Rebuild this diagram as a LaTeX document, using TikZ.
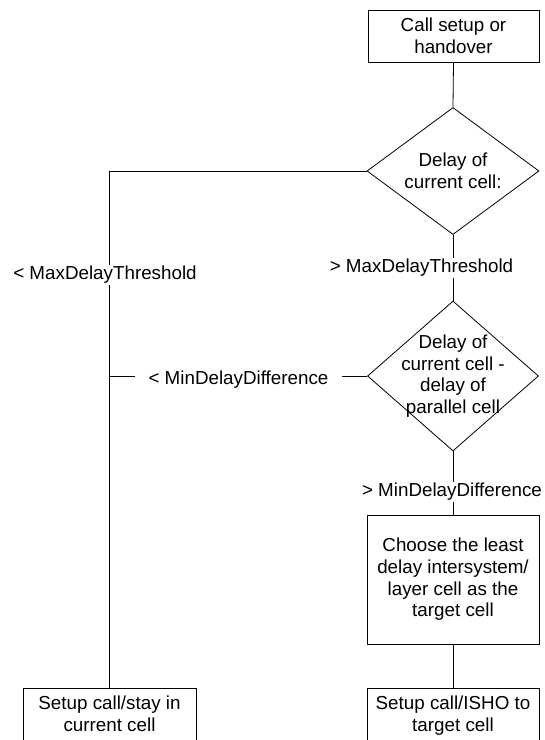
\documentclass[tikz,border=0pt]{standalone}
\usepackage{fontspec}
\setmainfont{Liberation Sans}
\usetikzlibrary{shapes.geometric}
\begin{document}
\begin{tikzpicture}[x=1pt,y=-1pt,
  every node/.style={font=\fontsize{18.8}{21.7}\selectfont},
  line/.style={line width=0.8pt, draw=black},
  boxnode/.style={draw, line width=0.8pt, inner sep=0pt, align=center},
  dianode/.style={draw, diamond, line width=0.8pt, inner sep=0pt},
  txt/.style={align=center, inner sep=0pt},
  lbl/.style={fill=white, inner sep=1.5pt}
]
\useasboundingbox (0,0) rectangle (545,740);

\node[boxnode, minimum width=171, minimum height=52] (top) at (453.5,36) {Call setup or\\handover};

\node[dianode, minimum width=172, minimum height=127] (d1) at (453,171) {};
\node[txt] (d1t) at (d1.center) {Delay of\\current cell:};

\node[dianode, minimum width=171, minimum height=150] (d2) at (453,376) {};
\node[txt] (d2t) at (d2.center) {Delay of\\current cell -\\delay of\\parallel cell};

\node[boxnode, minimum width=172, minimum height=129] (ch) at (453,579.5) {Choose the least\\delay intersystem/\\layer cell as the\\target cell};

\node[boxnode, minimum width=173, minimum height=72] (b1) at (109.5,724) {};
\node[txt, anchor=north] (b1t) at (109.5,696) {Setup call/stay in\\current cell};

\node[boxnode, minimum width=172, minimum height=72] (b2) at (453,724) {};
\node[txt, anchor=north] (b2t) at (453,696) {Setup call/ISHO to\\target cell};

\draw[line] (top.south) -- (d1.north);
\draw[line] (d1.west) -| (b1.north);
\draw[line] (d1.south) -- (d2.north);
\draw[line] (d2.west) -- (d2.west -| b1.north);
\draw[line] (d2.south) -- (ch.north);
\draw[line] (ch.south) -- (b2.north);

\node[lbl] (l1) at (105,275) {< MaxDelayThreshold};
\node[lbl] (l2) at (421.5,268) {> MaxDelayThreshold};
\node[lbl, inner xsep=14pt] (l3) at (238.5,380) {< MinDelayDifference};
\node[lbl] (l4) at (452,492) {> MinDelayDifference};
\end{tikzpicture}
\end{document}
